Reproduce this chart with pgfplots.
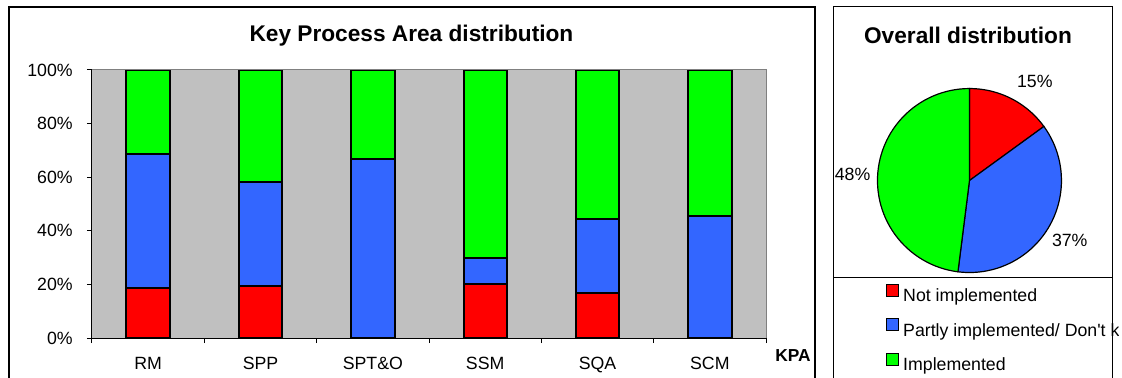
\documentclass[border=0pt]{standalone}
\usepackage{fontspec}
\setmainfont{Liberation Sans}
\usepackage{pgfplots}
\pgfplotsset{compat=1.18}
\definecolor{pred}{HTML}{FF0000}
\definecolor{pblue}{HTML}{3366FF}
\definecolor{pgreen}{HTML}{00FF00}
\definecolor{plotbg}{HTML}{C0C0C0}
\definecolor{plotedge}{HTML}{808080}
\begin{document}
\begin{tikzpicture}
\useasboundingbox (0pt,0pt) rectangle (841.5pt,-283.5pt);
% frames
\draw[black, line width=1.1pt] (6.75pt,-300pt) -- (6.75pt,-5.25pt) -- (611.25pt,-5.25pt) -- (611.25pt,-300pt);
\draw[black, line width=0.75pt] (624.75pt,-300pt) -- (624.75pt,-5.25pt) -- (834pt,-5.25pt) -- (834pt,-300pt);
\draw[black, line width=0.75pt] (624.75pt,-207.75pt) -- (834pt,-207.75pt);

\begin{axis}[
  at={(69pt,-52.5pt)}, anchor=north west,
  scale only axis, width=505.5pt, height=201pt,
  ybar stacked, bar width=32.5pt,
  xmin=-0.5, xmax=5.5, ymin=0, ymax=100,
  axis lines=left, axis line style={-, black, line width=0.75pt},
  axis background/.style={fill=plotbg},
  clip=false,
  xtick={0,1,2,3,4,5},
  xticklabels={RM,SPP,SPT\&O,SSM,SQA,SCM},
  major x tick style={draw=none},
  minor xtick={-0.5,0.5,1.5,2.5,3.5,4.5,5.5},
  minor x tick style={draw=black, line width=0.75pt},
  minor tick length=3.75pt,
  ytick={0,20,40,60,80,100},
  yticklabels={0\%,20\%,40\%,60\%,80\%,100\%},
  major y tick style={draw=black, line width=0.75pt},
  major tick length=3.75pt,
  tick align=outside,
  tick label style={font=\fontsize{13.3}{16}\selectfont},
  xticklabel style={anchor=north, inner sep=0pt, yshift=-10.3pt},
  yticklabel style={anchor=east, inner sep=0pt, xshift=-10.5pt},
  /pgf/number format/assume math mode=true,
  title={Key Process Area distribution},
  title style={font=\bfseries\fontsize{17}{20}\selectfont, at={(axis description cs:0.474,1.077)}, anchor=base, inner sep=0pt},
  xlabel={KPA},
  xlabel style={font=\bfseries\fontsize{13}{16}\selectfont, at={(axis description cs:1,0)}, anchor=west, xshift=6.75pt, yshift=-13.3pt, inner sep=0pt},
]
\draw[plotedge, line width=0.75pt] (rel axis cs:0,1) -- (rel axis cs:1,1) -- (rel axis cs:1,0);
% Not implemented
\addplot[fill=pred, draw=black, line width=1.5pt] coordinates {(0,18.75) (1,19.4) (2,0) (3,20) (4,16.7) (5,0)};
% Partly implemented / Don't know
\addplot[fill=pblue, draw=black, line width=1.5pt] coordinates {(0,50) (1,38.7) (2,66.7) (3,10) (4,27.8) (5,45.5)};
% Implemented
\addplot[fill=pgreen, draw=black, line width=1.5pt] coordinates {(0,31.25) (1,41.9) (2,33.3) (3,70) (4,55.5) (5,54.5)};
\end{axis}

\begin{scope}
\clip (0pt,0pt) rectangle (838.5pt,-283.5pt);
\begin{axis}[
  at={(727.1pt,-135.4pt)}, anchor=center,
  scale only axis, width=138pt, height=138pt,
  xmin=-1, xmax=1, ymin=-1, ymax=1,
  hide axis, clip=false,
  title={Overall distribution},
  title style={font=\bfseries\fontsize{17}{20}\selectfont, at={(axis description cs:0.492,1.204)}, anchor=base, inner sep=0pt},
  legend image code/.code={\draw[#1, draw=black, line width=0.6pt] (0pt,0pt) rectangle (9pt,9pt); \path (12pt,0pt);},
  legend cell align=left,
  legend style={draw=none, fill=none, at={(axis description cs:0.046,-0.06)}, anchor=north west, inner sep=0pt, row sep=11.1pt, font=\fontsize{13.3}{16}\selectfont, nodes={inner sep=0pt}},
]
% pie values in percent: 15, 37, 48 (cumulative 0-15, 15-52, 52-100)
\addplot[fill=pred, draw=black, line width=0.9pt, domain=0:15, samples=30, variable=\t] ({cos(90-3.6*\t)},{sin(90-3.6*\t)}) -- (axis cs:0,0) -- cycle;
\addplot[fill=pblue, draw=black, line width=0.9pt, domain=15:52, samples=50, variable=\t] ({cos(90-3.6*\t)},{sin(90-3.6*\t)}) -- (axis cs:0,0) -- cycle;
\addplot[fill=pgreen, draw=black, line width=0.9pt, domain=52:100, samples=60, variable=\t] ({cos(90-3.6*\t)},{sin(90-3.6*\t)}) -- (axis cs:0,0) -- cycle;
\node[font=\fontsize{13.3}{16}\selectfont] at (axis cs:0.71,1.08) {15\%};
\node[font=\fontsize{13.3}{16}\selectfont] at (axis cs:1.09,-0.65) {37\%};
\node[font=\fontsize{13.3}{16}\selectfont] at (axis cs:-1.27,0.07) {48\%};
\legend{Not implemented, Partly implemented/ Don\textquotesingle t know, Implemented}
\end{axis}
\end{scope}
\end{tikzpicture}
\end{document}
